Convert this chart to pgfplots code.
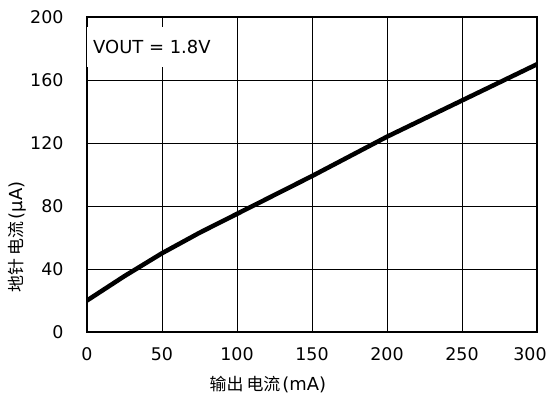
\documentclass[border=0pt]{standalone}
\usepackage{pgfplots}
\pgfplotsset{compat=1.18}
\usepackage{fontspec}
\setmainfont{DejaVu Sans}
\newfontfamily\cjk{Noto Sans CJK SC}

\begin{document}
\begin{tikzpicture}
\useasboundingbox (-87bp,-73bp) rectangle (460bp,332bp);
\begin{axis}[
    at={(0,0)}, anchor=south west,
    scale only axis,
    width=450bp, height=315bp,
    xmin=0, xmax=300,
    ymin=0, ymax=200,
    xtick={0,50,...,300},
    xticklabels={0,50,100,150,200,250,{\hspace*{-14bp}300}},
    ytick={0,40,...,200},
    major tick length=0pt,
    grid=major,
    grid style={black, line width=0.8pt},
    axis line style={black, line width=1.8pt},
    /pgf/number format/assume math mode=true,
    ticklabel style={font=\fontsize{17.5}{20}\selectfont},
    xticklabel style={yshift=-12bp},
    yticklabel style={xshift=-20bp},
    label style={font=\fontsize{18}{20}\selectfont},
    xlabel={{\cjk\fontsize{17}{19}\selectfont 输出\hspace{3bp}电流}\hspace{2bp}(mA)},
    ylabel={{\cjk\fontsize{17}{19}\selectfont 地针\hspace{3bp}电流}\hspace{2bp}(μA)},
    xlabel style={at={(rel axis cs:0.402,0)}, anchor=center, yshift=-53bp},
    ylabel style={at={(rel axis cs:0,0.302)}, anchor=center, rotate=0, yshift=70bp},
]
\addplot[black, line width=4.5bp] coordinates {
    (0,20) (25,35.5) (50,50) (75,63) (100,75) (150,99) (200,124) (250,147) (300,170)
};
\node[anchor=west, fill=white, inner xsep=6bp, minimum height=40bp, font=\fontsize{18}{20}\selectfont]
    at (rel axis cs:0,0.905) {VOUT = 1.8V};
\end{axis}
\end{tikzpicture}
\end{document}
